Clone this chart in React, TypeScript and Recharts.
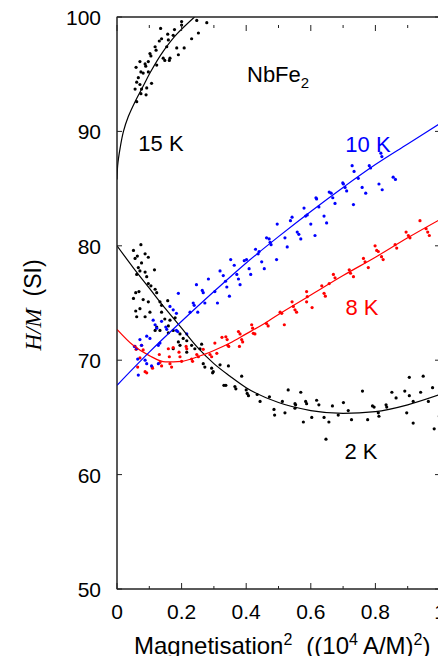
import { ScatterChart, Scatter, XAxis, YAxis } from "recharts"

// raw (M^2, H/M) readings per temperature
const pts15K: [number, number][] = [
  [0.135, 99.0], [0.157, 98.5], [0.178, 98.9], [0.2, 99.3], [0.247, 99.7], [0.278, 99.5], [0.252, 98.6],
  [0.231, 98.1], [0.208, 97.3], [0.185, 97.3], [0.154, 97.4], [0.138, 98.1], [0.131, 97.9], [0.159, 98.0],
  [0.118, 97.4], [0.121, 97.1], [0.102, 96.8], [0.105, 96.6], [0.087, 95.9], [0.089, 95.7], [0.071, 96.1],
  [0.059, 95.6], [0.074, 95.2], [0.081, 95.1], [0.066, 94.7], [0.097, 96.1], [0.123, 95.8], [0.143, 96.4],
  [0.148, 96.2], [0.164, 96.4], [0.162, 96.2], [0.19, 96.7], [0.174, 98.4], [0.097, 95.2], [0.061, 94.3],
  [0.071, 94.1], [0.056, 93.7], [0.076, 93.7], [0.092, 93.8], [0.107, 94.2], [0.074, 93.3], [0.09, 93.2],
  [0.061, 92.6], [0.2, 99.6],
]

const pts10K: [number, number][] = [
  [0.19, 75.85], [0.246, 76.6], [0.264, 76.1], [0.267, 75.9], [0.283, 77.1], [0.164, 74.7], [0.174, 74.4],
  [0.184, 74.1], [0.236, 75.0], [0.239, 74.8], [0.226, 74.2], [0.25, 74.2], [0.272, 75.0], [0.112, 73.5],
  [0.118, 73.1], [0.138, 73.4], [0.151, 72.9], [0.154, 72.7], [0.184, 72.6], [0.188, 72.5], [0.216, 72.3],
  [0.092, 72.1], [0.102, 71.9], [0.071, 71.8], [0.076, 71.3], [0.054, 71.2], [0.061, 71.0], [0.128, 71.3],
  [0.133, 71.5], [0.064, 70.1], [0.087, 70.0], [0.092, 69.7], [0.107, 69.5], [0.128, 69.7], [0.066, 68.7],
  [0.123, 72.8], [0.303, 76.0], [0.311, 75.0], [0.319, 77.8], [0.329, 77.4], [0.336, 76.9], [0.34, 76.4],
  [0.348, 75.6], [0.352, 78.8], [0.363, 78.3], [0.371, 77.5], [0.376, 77.1], [0.381, 76.6], [0.394, 78.7],
  [0.401, 78.8], [0.409, 78.0], [0.414, 77.5], [0.429, 79.7], [0.44, 79.5], [0.437, 79.3], [0.448, 78.6],
  [0.456, 78.0], [0.463, 80.7], [0.471, 80.6], [0.474, 80.3], [0.477, 80.1], [0.494, 78.8], [0.496, 81.9],
  [0.52, 80.7], [0.527, 79.9], [0.537, 82.2], [0.542, 82.5], [0.558, 81.2], [0.563, 81.0], [0.569, 80.6],
  [0.579, 83.3], [0.584, 82.6], [0.589, 82.7], [0.6, 81.9], [0.613, 80.9], [0.616, 84.2], [0.618, 84.1],
  [0.625, 83.4], [0.641, 82.6], [0.649, 82.0], [0.657, 84.7], [0.663, 84.6], [0.668, 84.2], [0.675, 83.7],
  [0.699, 85.5], [0.701, 85.4], [0.706, 85.1], [0.711, 84.8], [0.728, 87.0], [0.734, 86.5], [0.732, 83.6],
  [0.747, 85.9], [0.759, 85.1], [0.77, 84.6], [0.781, 87.0], [0.785, 86.8], [0.811, 85.4], [0.821, 84.9],
  [0.817, 88.1], [0.82, 87.8], [0.855, 86.0], [0.862, 85.8],
]

const pts8K: [number, number][] = [
  [0.056, 71.2], [0.059, 70.95], [0.076, 71.3], [0.081, 70.9], [0.071, 70.2], [0.064, 69.4], [0.087, 69.0],
  [0.092, 68.9], [0.109, 69.4], [0.11, 69.3], [0.131, 70.5], [0.133, 69.8], [0.138, 69.5], [0.159, 71.0],
  [0.162, 70.3], [0.164, 69.7], [0.169, 69.4], [0.174, 71.1], [0.192, 70.7], [0.195, 70.3], [0.2, 69.9],
  [0.214, 71.2], [0.216, 71.0], [0.231, 70.1], [0.234, 69.9], [0.247, 70.5], [0.252, 70.3], [0.267, 70.95],
  [0.288, 70.5], [0.293, 70.3], [0.303, 71.5], [0.309, 70.6], [0.325, 72.0], [0.337, 72.05], [0.341, 71.8],
  [0.343, 71.3], [0.346, 71.2], [0.376, 72.5], [0.381, 72.3], [0.386, 71.8], [0.389, 71.6], [0.379, 71.2],
  [0.417, 73.1], [0.42, 72.8], [0.422, 72.35], [0.427, 72.3], [0.463, 73.2], [0.468, 73.0], [0.505, 74.2],
  [0.51, 74.1], [0.518, 73.1], [0.546, 74.7], [0.551, 74.4], [0.542, 75.1], [0.556, 74.2], [0.587, 76.0],
  [0.589, 75.55], [0.587, 75.1], [0.604, 74.6], [0.634, 76.5], [0.641, 75.85], [0.645, 75.6], [0.657, 76.7],
  [0.67, 77.5], [0.675, 77.2], [0.719, 77.9], [0.723, 77.6], [0.732, 77.3], [0.763, 78.9], [0.768, 78.6],
  [0.778, 78.1], [0.799, 80.0], [0.804, 79.6], [0.809, 79.5], [0.819, 79.05], [0.824, 78.8], [0.861, 80.1],
  [0.866, 79.8], [0.895, 81.2], [0.902, 80.9], [0.907, 80.7], [0.938, 82.2], [0.957, 81.5], [0.962, 81.2],
  [0.967, 80.9],
]

const pts2K: [number, number][] = [
  [0.074, 80.1], [0.051, 79.6], [0.063, 79.1], [0.056, 78.9], [0.087, 79.3], [0.097, 79.0], [0.076, 78.5],
  [0.066, 78.1], [0.071, 77.8], [0.061, 77.5], [0.087, 77.7], [0.092, 77.3], [0.116, 77.9], [0.097, 76.7],
  [0.105, 76.5], [0.118, 76.2], [0.123, 75.9], [0.068, 76.0], [0.058, 75.9], [0.051, 75.4], [0.081, 75.3],
  [0.097, 75.1], [0.133, 75.1], [0.157, 75.2], [0.138, 74.8], [0.071, 74.5], [0.058, 74.3], [0.061, 73.8],
  [0.087, 73.8], [0.102, 74.2], [0.138, 74.2], [0.148, 73.6], [0.164, 73.5], [0.18, 73.7], [0.159, 73.0],
  [0.123, 72.9], [0.118, 72.6], [0.133, 72.6], [0.159, 72.4], [0.174, 72.6], [0.195, 72.3], [0.205, 71.9],
  [0.19, 71.6], [0.216, 71.7], [0.195, 71.3], [0.231, 71.3], [0.241, 71.0], [0.174, 71.0], [0.216, 70.7],
  [0.262, 71.4], [0.257, 71.0], [0.267, 69.7], [0.272, 69.4], [0.293, 69.3], [0.298, 69.0], [0.319, 69.6],
  [0.345, 69.5], [0.296, 68.9], [0.331, 67.8], [0.337, 67.8], [0.365, 67.7], [0.368, 67.5], [0.386, 68.6],
  [0.4, 67.4], [0.403, 67.1], [0.407, 66.9], [0.434, 67.0], [0.443, 66.4], [0.472, 66.8], [0.486, 65.7],
  [0.488, 65.2], [0.512, 66.4], [0.52, 65.4], [0.53, 67.4], [0.551, 66.2], [0.553, 66.1], [0.569, 67.2],
  [0.551, 65.8], [0.577, 64.6], [0.584, 66.4], [0.587, 66.2], [0.603, 65.0], [0.618, 66.5], [0.625, 66.1],
  [0.641, 65.0], [0.647, 63.1], [0.656, 64.6], [0.667, 66.0], [0.685, 65.2], [0.701, 66.3], [0.716, 65.6],
  [0.726, 64.8], [0.76, 67.3], [0.776, 64.8], [0.791, 66.0], [0.796, 65.9], [0.809, 65.4], [0.811, 65.1],
  [0.833, 66.1], [0.835, 65.9], [0.851, 67.2], [0.864, 66.7], [0.891, 67.3], [0.897, 65.4], [0.905, 68.5],
  [0.905, 66.9], [0.917, 66.4], [0.917, 64.5], [0.94, 67.2], [0.948, 68.6], [0.964, 66.4], [0.977, 67.6],
  [0.982, 64.0], [0.998, 65.1],
]

// fitted curves
const fit15K: [number, number][] = [
  [0, 85.8], [0.002, 87.0], [0.01, 88.6], [0.02, 90.0], [0.035, 91.3], [0.056, 92.6],
  [0.08, 93.9], [0.102, 95.1], [0.143, 97.0], [0.185, 98.5], [0.24, 100],
]
const fit10K: [number, number][] = [
  [0, 67.8], [0.1, 70.7], [0.2, 73.4], [0.3, 76.0], [0.4, 78.5], [0.5, 80.8],
  [0.6, 83.0], [0.7, 85.1], [0.8, 87.1], [0.9, 88.9], [1, 90.7],
]
const fit8K: [number, number][] = [
  [0, 72.7], [0.05, 71.3], [0.1, 70.4], [0.15, 69.85], [0.2, 69.9], [0.25, 70.3], [0.3, 70.85], [0.35, 71.5],
  [0.4, 72.3], [0.45, 73.1], [0.5, 74.0], [0.6, 75.7], [0.7, 77.4], [0.8, 79.0], [0.9, 80.7], [1, 82.3],
]
const fit2K: [number, number][] = [
  [0, 80.0], [0.05, 78.1], [0.1, 76.3], [0.15, 74.5], [0.2, 72.8], [0.25, 71.1], [0.3, 69.7], [0.35, 68.6],
  [0.4, 67.6], [0.5, 66.3], [0.6, 65.6], [0.7, 65.35], [0.8, 65.5], [0.9, 66.1], [1, 67.0],
]

const xTicks = [0, 0.1, 0.2, 0.3, 0.4, 0.5, 0.6, 0.7, 0.8, 0.9, 1]
const yTicks = [50, 60, 70, 80, 90, 100]

const FONT = "'Liberation Sans', Arial, Helvetica, sans-serif"
const AXIS = "#222"

const toXY = (arr: [number, number][]) => arr.map(([x, y]) => ({ x, y }))

const isMajor = (v: number) => Math.round(v * 10) % 2 === 0
const fmtX = (v: number) => (v === 0 || v === 1 ? String(v) : v.toFixed(1))

const dot = (color: string) => (props: any) => <circle cx={props.cx} cy={props.cy} r={1.6} fill={color} />
const noDot = () => <g />

const BottomTick = (props: any) => {
  const { x, y, payload } = props
  const major = isMajor(payload.value)
  return (
    <g>
      <line x1={x} y1={y} x2={x} y2={y - (major ? 6 : 3)} stroke={AXIS} />
      {major && (
        <text x={x} y={y + 30} textAnchor="middle" fontSize={21} fontFamily={FONT} fill="#000">
          {fmtX(payload.value)}
        </text>
      )}
    </g>
  )
}

// top axis band is 8px tall, the frame is its lower edge
const TopTick = (props: any) => {
  const { x, y, payload } = props
  const y0 = y + 8
  return <line x1={x} y1={y0} x2={x} y2={y0 + (isMajor(payload.value) ? 6 : 3)} stroke={AXIS} />
}

const LeftTick = (props: any) => {
  const { x, y, payload } = props
  return (
    <g>
      <line x1={x} y1={y} x2={x + 5} y2={y} stroke={AXIS} />
      <text x={x - 16} y={y + 8} textAnchor="end" fontSize={21} fontFamily={FONT} fill="#000">
        {payload.value}
      </text>
    </g>
  )
}

const RightTick = (props: any) => {
  const { x, y } = props
  return <line x1={x} y1={y} x2={x - 5} y2={y} stroke={AXIS} />
}

const W = 438
const H = 656
// plot box inside the chart svg (follows from margins and axis sizes below)
const PL = 109
const PT = 17
const PW = 323
const PH = 572

export default function App() {
  return (
    <div style={{ position: "relative", width: W, height: H, marginTop: -8 }}>
      <ScatterChart width={W} height={H} margin={{ top: 9, right: 0, bottom: 7, left: 0 }}>
        <XAxis
          xAxisId="b"
          type="number"
          dataKey="x"
          domain={[0, 1]}
          ticks={xTicks}
          interval={0}
          allowDataOverflow
          height={60}
          tickSize={0}
          tickMargin={0}
          tickLine={false}
          axisLine={{ stroke: AXIS }}
          tick={<BottomTick />}
        />
        <XAxis
          xAxisId="t"
          orientation="top"
          type="number"
          dataKey="x"
          domain={[0, 1]}
          ticks={xTicks}
          interval={0}
          allowDataOverflow
          height={8}
          tickSize={0}
          tickMargin={0}
          tickLine={false}
          axisLine={{ stroke: AXIS }}
          tick={<TopTick />}
        />
        <YAxis
          yAxisId="l"
          type="number"
          dataKey="y"
          domain={[50, 100]}
          ticks={yTicks}
          interval={0}
          allowDataOverflow
          width={109}
          tickSize={0}
          tickMargin={0}
          tickLine={false}
          axisLine={{ stroke: AXIS }}
          tick={<LeftTick />}
        />
        <YAxis
          yAxisId="r"
          orientation="right"
          type="number"
          dataKey="y"
          domain={[50, 100]}
          ticks={yTicks}
          interval={0}
          allowDataOverflow
          width={6}
          tickSize={0}
          tickMargin={0}
          tickLine={false}
          axisLine={{ stroke: AXIS }}
          tick={<RightTick />}
        />

        <Scatter xAxisId="b" yAxisId="l" data={toXY(pts15K)} shape={dot("#000")} isAnimationActive={false} />
        <Scatter xAxisId="b" yAxisId="l" data={toXY(pts2K)} shape={dot("#000")} isAnimationActive={false} />
        <Scatter xAxisId="b" yAxisId="l" data={toXY(pts8K)} shape={dot("#ff0000")} isAnimationActive={false} />
        <Scatter xAxisId="b" yAxisId="l" data={toXY(pts10K)} shape={dot("#0000ff")} isAnimationActive={false} />

        <Scatter xAxisId="t" yAxisId="r" data={toXY(fit15K)} line={{ stroke: "#000", strokeWidth: 1.2 }}
          lineJointType="monotoneY" shape={noDot} isAnimationActive={false} />
        <Scatter xAxisId="t" yAxisId="r" data={toXY(fit2K)} line={{ stroke: "#000", strokeWidth: 1.2 }}
          lineJointType="monotoneX" shape={noDot} isAnimationActive={false} />
        <Scatter xAxisId="t" yAxisId="r" data={toXY(fit8K)} line={{ stroke: "#ff0000", strokeWidth: 1.2 }}
          lineJointType="monotoneX" shape={noDot} isAnimationActive={false} />
        <Scatter xAxisId="t" yAxisId="r" data={toXY(fit10K)} line={{ stroke: "#0000ff", strokeWidth: 1.2 }}
          lineJointType="monotoneX" shape={noDot} isAnimationActive={false} />
      </ScatterChart>

      <svg width={W} height={664} style={{ position: "absolute", left: 0, top: 0, pointerEvents: "none" }}>
        <rect x={PL} y={PT} width={PW} height={PH} fill="none" stroke={AXIS} strokeWidth={1} />
        <g fontFamily={FONT} fontSize={22}>
          <text x={239} y={82}>
            NbFe<tspan dy={6} fontSize={15}>2</tspan>
          </text>
          <text x={153} y={151} textAnchor="middle" fill="#000">15 K</text>
          <text x={360} y={152} textAnchor="middle" fill="#0000ff">10 K</text>
          <text x={354} y={315} textAnchor="middle" fill="#ff0000">8 K</text>
          <text x={353} y={459} textAnchor="middle" fill="#000">2 K</text>
        </g>
        <text x={126} y={654} fontFamily={FONT} fontSize={24} fill="#000">
          Magnetisation<tspan dy={-9} fontSize={16}>2</tspan>
          <tspan dy={9} dx={14}>((10</tspan>
          <tspan dy={-9} fontSize={16}>4</tspan>
          <tspan dy={9} dx={5}>A/M)</tspan>
          <tspan dy={-9} fontSize={16}>2</tspan>
          <tspan dy={9}>)</tspan>
        </text>
        <g transform="translate(25, 305) rotate(-90)">
          <text x={0} y={0} textAnchor="middle" dominantBaseline="central" fontSize={23} fill="#000">
            <tspan fontFamily="'Liberation Serif', 'Times New Roman', serif" fontStyle="italic">H/M</tspan>
            <tspan dx={12} fontFamily={FONT}>(SI)</tspan>
          </text>
        </g>
      </svg>
    </div>
  )
}
